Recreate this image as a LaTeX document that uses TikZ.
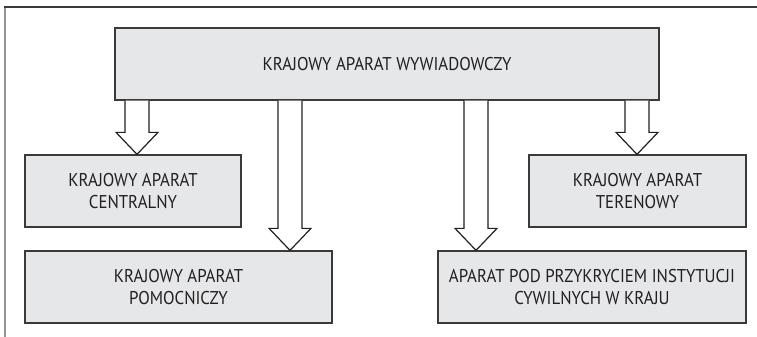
\documentclass[tikz,border=0pt]{standalone}
\usepackage{fontspec}
\setmainfont[FakeStretch=0.91]{PT Sans}
\definecolor{boxfill}{HTML}{E6E7E8}
\definecolor{boxline}{HTML}{3A3A3A}
\definecolor{inkc}{HTML}{231F20}
\tikzset{
  unitbox/.style={draw=boxline, line width=1.3pt, fill=boxfill, text=inkc,
    align=center, font=\fontsize{18.5}{22}\selectfont, inner sep=0pt},
  blockarrow/.style={draw=inkc, line width=1.2pt, fill=white, line join=miter},
}
% hollow block arrow from the top unit down to a sub-unit
\newcommand\blockarrow[2]{%
  \draw[blockarrow]
    ([xshift=-12pt]top.south -| #1) --
    ([xshift=-12pt,yshift=22pt]#2.north -| #1) --
    ([xshift=-21pt,yshift=22pt]#2.north -| #1) --
    (#2.north -| #1) --
    ([xshift=21pt,yshift=22pt]#2.north -| #1) --
    ([xshift=12pt,yshift=22pt]#2.north -| #1) --
    ([xshift=12pt]top.south -| #1);}
\begin{document}
\begin{tikzpicture}[x=1pt,y=-1pt]
\useasboundingbox (0,0) rectangle (757,337);
% page frame
\draw[color=gray!85, line width=2pt] (5,7) -- (5,337);
\draw[color=boxline, line width=1.3pt] (4,7) -- (757,7);
% units
\node[unitbox, minimum width=544pt, minimum height=72pt] (top) at (387,64)
  {KRAJOWY APARAT WYWIADOWCZY};
\node[unitbox, minimum width=216pt, minimum height=72pt] (cen) at (133,191)
  {KRAJOWY APARAT\\CENTRALNY};
\node[unitbox, minimum width=217pt, minimum height=72pt] (ter) at (637.5,191)
  {KRAJOWY APARAT\\TERENOWY};
\node[unitbox, minimum width=307pt, minimum height=72pt] (pom) at (178.5,287)
  {KRAJOWY APARAT\\POMOCNICZY};
\node[unitbox, minimum width=308pt, minimum height=72pt] (cyw) at (592,287)
  {APARAT POD PRZYKRYCIEM INSTYTUCJI\\CYWILNYCH W KRAJU};
% arrow axes
\coordinate (a1) at (137,0);
\coordinate (a2) at (290,0);
\coordinate (a3) at (476,0);
\coordinate (a4) at (637,0);
\blockarrow{a1}{cen}
\blockarrow{a2}{pom}
\blockarrow{a3}{cyw}
\blockarrow{a4}{ter}
\end{tikzpicture}
\end{document}
